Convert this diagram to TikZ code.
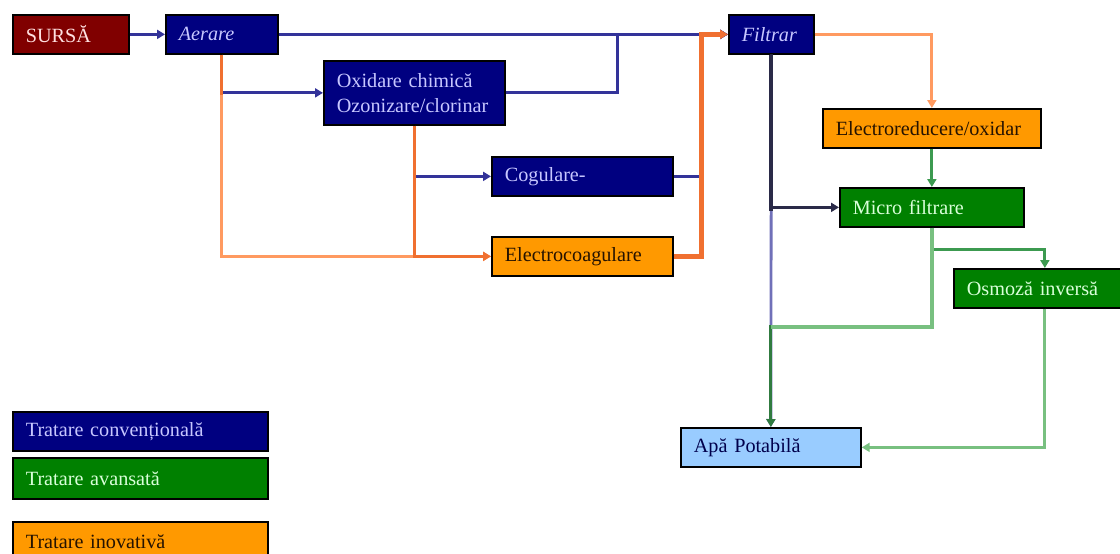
\documentclass[tikz,border=0pt]{standalone}
\usepackage{fontspec}
\setmainfont{Liberation Serif}
\usetikzlibrary{arrows.meta}
\definecolor{navybox}{HTML}{000080}
\definecolor{redbox}{HTML}{800000}
\definecolor{greenbox}{HTML}{008000}
\definecolor{orangebox}{HTML}{FF9900}
\definecolor{skybox}{HTML}{99CCFF}
\definecolor{convline}{HTML}{333399}
\definecolor{inovline}{HTML}{F07030}
\definecolor{inovlight}{HTML}{FF9A60}
\definecolor{darkline}{HTML}{2A2A48}
\definecolor{advline}{HTML}{3C9A50}
\definecolor{advlight}{HTML}{78C080}

\begin{document}
\begin{tikzpicture}[
    x=0.02cm,
    y=-0.02cm,
    every node/.style={font=\fontsize{11.5}{14.5}\selectfont},
    box/.style={draw=black, line width=1pt, anchor=north west, align=left,
        inner xsep=0.26cm, inner ysep=0pt, minimum height=0.78cm},
    conventional/.style={box, fill=navybox, text=blue!22!white},
    advanced/.style={box, fill=greenbox, text=green!15!white},
    innovative/.style={box, fill=orangebox, text=black!85!orange},
    source/.style={box, fill=redbox, text=red!12!white},
    target/.style={box, fill=skybox, text=black!70!blue},
    flow/.style={-{Triangle[length=1.6mm,width=1.8mm]}, line width=1.6pt},
    conv/.style={flow, draw=convline},
    inov/.style={flow, draw=inovline},
    inovl/.style={flow, draw=inovlight},
    dark/.style={flow, draw=darkline},
    adv/.style={flow, draw=advline},
    advl/.style={flow, draw=advlight}
]
    \useasboundingbox (0,0) rectangle (1120,554);

    % treatment steps
    \node[source, text width=1.8cm] (sursa) at (12,14) {SURSĂ};
    \node[conventional, text width=1.72cm] (aerare) at (165,14) {\itshape Aerare};
    \node[conventional, text width=3.1cm, minimum height=1.28cm] (oxid) at (323,60)
        {Oxidare chimică\\Ozonizare/clorinar};
    \node[conventional, text width=1.18cm] (filtrar) at (728,14) {\itshape Filtrar};
    \node[conventional, text width=3.1cm] (cogul) at (491,156) {Cogulare-};
    \node[innovative, text width=3.1cm] (electrocoag) at (491,236) {Electrocoagulare};
    \node[innovative, text width=3.84cm] (electrored) at (822,108) {Electroreducere/oxidar};
    \node[advanced, text width=3.16cm] (micro) at (839,187) {Micro filtrare};
    \node[advanced, text width=3.12cm] (osmoza) at (953,268) {Osmoză inversă};
    \node[target, text width=3.08cm] (apa) at (680,427) {Apă Potabilă};

    % legend
    \node[conventional, text width=4.58cm] (legconv) at (12,411) {Tratare convențională};
    \node[advanced, text width=4.58cm, minimum height=0.82cm] (legadv) at (12,457) {Tratare avansată};
    \node[innovative, text width=4.58cm, minimum height=0.8cm] (leginov) at (12,521) {Tratare inovativă};

    % conventional line
    \draw[conv] (sursa) -- (aerare);
    \draw[conv] (aerare) -- (filtrar);
    \draw[conv] (aerare.south) |- (oxid.west);
    \draw[conv] (oxid.east) -- ++(112,0) |- (filtrar.west);
    \draw[conv] (oxid.south) |- (cogul.west);
    \draw[conv] (cogul.east) -- ++(28,0) |- (filtrar.west);
    \draw[conv, draw=convline!70!white] (filtrar.south) -- (apa.north);

    % innovative line
    \draw[inovl] (aerare.south) |- (electrocoag.west);
    \draw[inov, -] (aerare.south) -- ++(0,40);
    \draw[inov] (oxid.south) |- (electrocoag.west);
    \draw[inov, line width=2.6pt] (electrocoag.east) -- ++(28,0) |- (filtrar.west);
    \draw[inovl] (filtrar.east) -| (electrored.north);

    % advanced line
    \draw[dark, line width=2.4pt, -] (filtrar.south) -- ++(0,156);
    \draw[dark] (filtrar.south) |- (micro.west);
    \draw[adv] (electrored.south) -- (electrored.south |- micro.north);
    \draw[adv] (micro.south) -- ++(0,22) -| (osmoza.north);
    \draw[adv, draw=advline!80!black] (micro.south) -- ++(0,99) -| (apa.north);
    \draw[advl, line width=2.4pt, -] (micro.south) -- ++(0,99) -- ++(-161,0);
    \draw[advl] (osmoza.south) |- (apa.east);
\end{tikzpicture}
\end{document}
